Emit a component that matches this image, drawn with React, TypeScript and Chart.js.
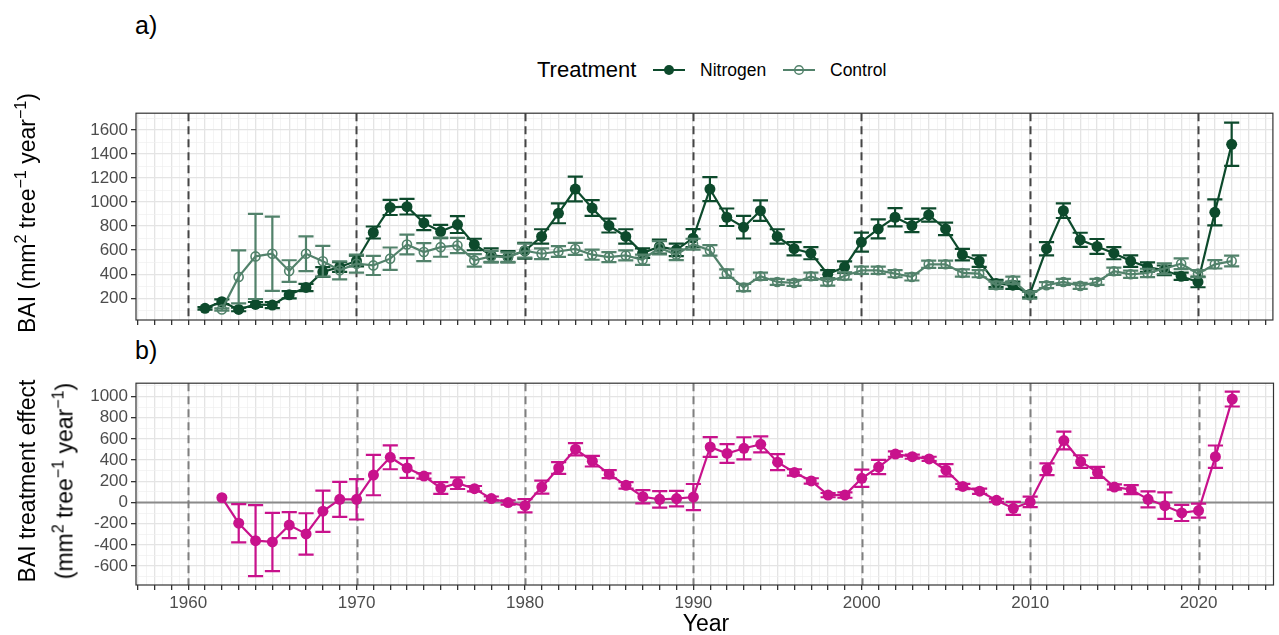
import React, { useEffect, useRef } from "react";
import { Chart, registerables } from "chart.js";

Chart.register(...registerables);

// ---- data -------------------------------------------------------------
const years = [
  1961, 1962, 1963, 1964, 1965, 1966, 1967, 1968, 1969, 1970,
  1971, 1972, 1973, 1974, 1975, 1976, 1977, 1978, 1979, 1980,
  1981, 1982, 1983, 1984, 1985, 1986, 1987, 1988, 1989, 1990,
  1991, 1992, 1993, 1994, 1995, 1996, 1997, 1998, 1999, 2000,
  2001, 2002, 2003, 2004, 2005, 2006, 2007, 2008, 2009, 2010,
  2011, 2012, 2013, 2014, 2015, 2016, 2017, 2018, 2019, 2020,
  2021, 2022,
];

// Basal area increment, nitrogen plots (mean and error half-width)
const nitrogenBAI = [
  115, 170, 106, 148, 142, 228, 289, 418, 459, 510,
  747, 956, 962, 827, 755, 813, 647, 556, 545, 595,
  714, 907, 1109, 951, 805, 714, 575, 630, 603, 700,
  1109, 874, 791, 929, 714, 612, 575, 399, 459, 667,
  777, 874, 805, 893, 777, 562, 509, 322, 308, 231,
  612, 929, 686, 631, 575, 509, 459, 432, 382, 335,
  915, 1482,
];
const nitrogenErr = [
  10, 20, 15, 20, 25, 30, 30, 40, 40, 45,
  50, 63, 65, 60, 55, 70, 48, 58, 48, 65,
  60, 83, 103, 66, 58, 60, 40, 58, 52, 75,
  100, 73, 94, 85, 60, 55, 51, 35, 48, 79,
  79, 76, 55, 55, 52, 48, 48, 30, 30, 25,
  55, 61, 59, 62, 51, 48, 39, 40, 30, 44,
  108, 180,
];

// Basal area increment, control plots (no record for 1961)
const controlBAI = [
  null, 106, 377, 548, 570, 426, 570, 507, 432, 487,
  473, 529, 647, 584, 625, 639, 515, 548, 542, 596,
  570, 589, 610, 562, 542, 556, 520, 620, 562, 650,
  598, 404, 289, 382, 335, 327, 382, 335, 385, 432,
  432, 404, 377, 482, 482, 410, 404, 308, 349, 225,
  308, 335, 302, 335, 424, 399, 410, 446, 487, 404,
  482, 509,
];
const controlErr = [
  null, 10, 221, 355, 310, 90, 144, 128, 75, 75,
  80, 93, 83, 75, 80, 64, 52, 45, 40, 58,
  45, 45, 50, 42, 42, 42, 42, 55, 45, 45,
  44, 35, 30, 30, 25, 25, 30, 30, 30, 30,
  30, 30, 30, 30, 30, 30, 30, 30, 30, 30,
  25, 25, 25, 25, 30, 30, 35, 45, 45, 30,
  35, 45,
];

// Treatment effect (nitrogen minus control)
const effectBAI = [
  null, 46, -195, -360, -372, -213, -296, -82, 30, 30,
  259, 427, 326, 250, 137, 183, 131, 37, 0, -30,
  146, 326, 503, 390, 268, 162, 55, 30, 37, 52,
  524, 463, 512, 549, 381, 284, 204, 70, 70, 229,
  335, 457, 433, 412, 305, 152, 107, 21, -55, 6,
  314, 585, 387, 284, 146, 122, 30, -30, -98, -76,
  433, 976,
];
const effectErr = [
  null, 0, 180, 335, 275, 122, 195, 195, 165, 190,
  190, 113, 93, 25, 55, 55, 25, 20, 20, 63,
  61, 55, 58, 50, 38, 30, 63, 78, 73, 123,
  94, 88, 104, 76, 76, 30, 25, 20, 25, 82,
  67, 25, 20, 20, 58, 25, 25, 15, 61, 50,
  56, 84, 59, 52, 25, 43, 76, 125, 76, 66,
  105, 70,
];

// axis breaks
const decadeYears = [1960, 1970, 1980, 1990, 2000, 2010, 2020];
const topTickLabels = [200, 400, 600, 800, 1000, 1200, 1400, 1600];
const bottomTickLabels = [-600, -400, -200, 0, 200, 400, 600, 800, 1000];

// ---- style ------------------------------------------------------------
const FONT = "'Liberation Sans', Arial, Helvetica, sans-serif";
const NITROGEN = "#0d4a2c";
const CONTROL = "#52826b";
const EFFECT = "#c8128c";
const GRID_MAJOR = "#e4e4e4";
const GRID_MINOR = "#efefef";
const TICK = "#333333";
const LABEL = "#4d4d4d";

const X_MIN = 1956.9;
const X_MAX = 2024.45;

const toPoints = (vals: (number | null)[]) =>
  years.map((y, i) => ({ x: y, y: vals[i] })).filter((p) => p.y !== null);
const toErrs = (vals: (number | null)[], errs: (number | null)[]) =>
  years.map((_, i) => errs[i]).filter((_, i) => vals[i] !== null);

// vertical error bars with caps, drawn just before each series
const errorBarPlugin = {
  id: "errorBars",
  beforeDatasetDraw(chart: any, args: any) {
    const ds = chart.data.datasets[args.index];
    const errs = ds.errors as number[] | undefined;
    if (!errs) return;
    const xs = chart.scales.x;
    const ys = chart.scales.y;
    const ctx = chart.ctx as CanvasRenderingContext2D;
    const a = chart.chartArea;
    ctx.save();
    ctx.beginPath();
    ctx.rect(a.left, a.top, a.right - a.left, a.bottom - a.top);
    ctx.clip();
    ctx.strokeStyle = ds.borderColor;
    ctx.lineWidth = 2.2;
    ds.data.forEach((p: any, i: number) => {
      const e = errs[i];
      if (!e) return;
      const x = xs.getPixelForValue(p.x);
      const half = xs.getPixelForValue(p.x + 0.45) - x;
      const yHi = ys.getPixelForValue(p.y + e);
      const yLo = ys.getPixelForValue(p.y - e);
      ctx.beginPath();
      ctx.moveTo(x, yHi);
      ctx.lineTo(x, yLo);
      ctx.moveTo(x - half, yHi);
      ctx.lineTo(x + half, yHi);
      ctx.moveTo(x - half, yLo);
      ctx.lineTo(x + half, yLo);
      ctx.stroke();
    });
    ctx.restore();
  },
};

// decade reference lines, optional zero line, and the panel frame
const panelPlugin = {
  id: "panelDecor",
  beforeDatasetsDraw(chart: any) {
    const opts = chart.options.plugins.panelDecor;
    const xs = chart.scales.x;
    const ys = chart.scales.y;
    const a = chart.chartArea;
    const ctx = chart.ctx as CanvasRenderingContext2D;
    ctx.save();
    if (opts.zeroLine) {
      const y0 = ys.getPixelForValue(0);
      ctx.strokeStyle = "#8a8a8a";
      ctx.lineWidth = 2;
      ctx.beginPath();
      ctx.moveTo(a.left, y0);
      ctx.lineTo(a.right, y0);
      ctx.stroke();
    }
    ctx.strokeStyle = opts.dashColor;
    ctx.lineWidth = 2;
    ctx.setLineDash([8, 5]);
    decadeYears.forEach((d) => {
      const x = Math.round(xs.getPixelForValue(d)) + 0.5;
      ctx.beginPath();
      ctx.moveTo(x, a.top);
      ctx.lineTo(x, a.bottom);
      ctx.stroke();
    });
    ctx.restore();
  },
  afterDraw(chart: any) {
    const a = chart.chartArea;
    const ctx = chart.ctx as CanvasRenderingContext2D;
    ctx.save();
    ctx.strokeStyle = TICK;
    ctx.lineWidth = 1.2;
    ctx.strokeRect(a.left, a.top, a.right - a.left, a.bottom - a.top);
    ctx.restore();
  },
};

const xTickValues: number[] = [];
for (let v = Math.ceil(X_MIN * 2) / 2; v <= X_MAX; v += 0.5) xTickValues.push(v);

function xScale(showLabels: boolean, height: number) {
  const isMajor = (c: any) => c.tick && Number.isInteger(c.tick.value);
  return {
    type: "linear",
    min: X_MIN,
    max: X_MAX,
    afterBuildTicks: (s: any) => {
      s.ticks = xTickValues.map((v) => ({ value: v }));
    },
    afterFit: (s: any) => {
      s.height = height;
    },
    border: { display: false },
    grid: {
      drawTicks: true,
      tickLength: 5,
      color: (c: any) => (isMajor(c) ? GRID_MAJOR : GRID_MINOR),
      lineWidth: (c: any) => (isMajor(c) ? 1.3 : 0.7),
      tickColor: (c: any) => (isMajor(c) ? TICK : "rgba(0,0,0,0)"),
      tickWidth: (c: any) => (isMajor(c) ? 1.3 : 0),
    },
    ticks: {
      display: showLabels,
      autoSkip: false,
      maxRotation: 0,
      minRotation: 0,
      padding: 3,
      color: LABEL,
      font: { family: FONT, size: 17 },
      callback: (v: number) => (decadeYears.includes(v) ? String(v) : ""),
    },
  };
}

function yScale(min: number, max: number, labels: number[]) {
  const vals: number[] = [];
  for (let v = Math.ceil(min / 100) * 100; v <= max; v += 100) vals.push(v);
  const isMajor = (c: any) => c.tick && labels.includes(c.tick.value);
  return {
    type: "linear",
    min,
    max,
    afterBuildTicks: (s: any) => {
      s.ticks = vals.map((v) => ({ value: v }));
    },
    afterFit: (s: any) => {
      s.width = 136;
    },
    border: { display: false },
    grid: {
      drawTicks: true,
      tickLength: 5,
      color: (c: any) => (isMajor(c) ? GRID_MAJOR : GRID_MINOR),
      lineWidth: (c: any) => (isMajor(c) ? 1.3 : 0.7),
      tickColor: (c: any) => (isMajor(c) ? TICK : "rgba(0,0,0,0)"),
      tickWidth: (c: any) => (isMajor(c) ? 1.3 : 0),
    },
    ticks: {
      autoSkip: false,
      padding: 3,
      color: LABEL,
      font: { family: FONT, size: 17 },
      callback: (v: number) => (labels.includes(v) ? String(v) : ""),
    },
  };
}

function TopPanel() {
  const ref = useRef<HTMLCanvasElement>(null);
  useEffect(() => {
    const chart = new Chart(ref.current as HTMLCanvasElement, {
      type: "line",
      data: {
        datasets: [
          {
            label: "Control",
            data: toPoints(controlBAI),
            errors: toErrs(controlBAI, controlErr),
            borderColor: CONTROL,
            backgroundColor: "rgba(0,0,0,0)",
            borderWidth: 2.2,
            pointRadius: 4.5,
            pointBorderWidth: 1.6,
            pointBorderColor: CONTROL,
            pointBackgroundColor: "rgba(0,0,0,0)",
            order: 1,
          } as any,
          {
            label: "Nitrogen",
            data: toPoints(nitrogenBAI),
            errors: toErrs(nitrogenBAI, nitrogenErr),
            borderColor: NITROGEN,
            backgroundColor: NITROGEN,
            borderWidth: 2.2,
            pointRadius: 5.5,
            pointBorderWidth: 0,
            pointBackgroundColor: NITROGEN,
            order: 2,
          } as any,
        ],
      },
      options: {
        responsive: false,
        animation: false,
        layout: { padding: { top: 12, right: 1, left: 0, bottom: 0 } },
        plugins: {
          legend: { display: false },
          tooltip: { enabled: false },
          panelDecor: { dashColor: "#454545", zeroLine: false },
        } as any,
        scales: {
          x: xScale(false, 20) as any,
          y: yScale(18, 1741, topTickLabels) as any,
        },
      },
      plugins: [errorBarPlugin, panelPlugin],
    });
    return () => chart.destroy();
  }, []);
  return (
    <canvas
      ref={ref}
      width={1279}
      height={240}
      style={{ position: "absolute", left: 0, top: 100, width: 1279, height: 240 }}
    />
  );
}

function BottomPanel() {
  const ref = useRef<HTMLCanvasElement>(null);
  useEffect(() => {
    const chart = new Chart(ref.current as HTMLCanvasElement, {
      type: "line",
      data: {
        datasets: [
          {
            label: "Effect",
            data: toPoints(effectBAI),
            errors: toErrs(effectBAI, effectErr),
            borderColor: EFFECT,
            backgroundColor: EFFECT,
            borderWidth: 2.2,
            pointRadius: 5.5,
            pointBorderWidth: 0,
            pointBackgroundColor: EFFECT,
          } as any,
        ],
      },
      options: {
        responsive: false,
        animation: false,
        layout: { padding: { top: 7, right: 1, left: 0, bottom: 0 } },
        plugins: {
          legend: { display: false },
          tooltip: { enabled: false },
          panelDecor: { dashColor: "#7f7f7f", zeroLine: true },
        } as any,
        scales: {
          x: xScale(true, 50) as any,
          y: yScale(-778, 1126, bottomTickLabels) as any,
        },
      },
      plugins: [errorBarPlugin, panelPlugin],
    });
    return () => chart.destroy();
  }, []);
  return (
    <canvas
      ref={ref}
      width={1279}
      height={265}
      style={{ position: "absolute", left: 0, top: 370, width: 1279, height: 265 }}
    />
  );
}

const textBase: React.CSSProperties = {
  position: "absolute",
  fontFamily: FONT,
  color: "#000",
  whiteSpace: "nowrap",
  lineHeight: 1,
};

function Rotated({ cx, cy, size, children }: { cx: number; cy: number; size: number; children: React.ReactNode }) {
  return (
    <div
      style={{
        ...textBase,
        fontSize: size,
        left: cx,
        top: cy,
        transform: "translate(-50%, -50%) rotate(-90deg)",
      }}
    >
      {children}
    </div>
  );
}

const sup: React.CSSProperties = { fontSize: "0.7em", verticalAlign: "0.55em", lineHeight: 0 };

function Units() {
  return (
    <>
      (mm<span style={sup}>2</span> tree<span style={sup}>−1</span> year<span style={sup}>−1</span>)
    </>
  );
}

function LegendKey({ x, filled, color }: { x: number; filled: boolean; color: string }) {
  return (
    <svg style={{ position: "absolute", left: x, top: 60 }} width={34} height={20}>
      <line x1={1} y1={10} x2={33} y2={10} stroke={color} strokeWidth={2} />
      {filled ? (
        <circle cx={17} cy={10} r={5} fill={color} />
      ) : (
        <circle cx={17} cy={10} r={4.3} fill="none" stroke={color} strokeWidth={1.5} />
      )}
    </svg>
  );
}

export default function App() {
  return (
    <div
      style={{
        position: "absolute",
        left: 0,
        top: 0,
        width: 1279,
        height: 635,
        background: "#fff",
        overflow: "hidden",
      }}
    >
      <div style={{ ...textBase, fontSize: 25, left: 135, top: 13 }}>a)</div>
      <div style={{ ...textBase, fontSize: 25, left: 135, top: 338 }}>b)</div>

      <div style={{ ...textBase, fontSize: 22, left: 537, top: 59 }}>Treatment</div>
      <LegendKey x={652} filled={true} color={NITROGEN} />
      <div style={{ ...textBase, fontSize: 17.5, left: 700, top: 62 }}>Nitrogen</div>
      <LegendKey x={782} filled={false} color={CONTROL} />
      <div style={{ ...textBase, fontSize: 17.5, left: 830, top: 62 }}>Control</div>

      <TopPanel />
      <BottomPanel />

      <Rotated cx={27} cy={213} size={23}>
        BAI <Units />
      </Rotated>
      <Rotated cx={27} cy={481} size={23}>
        BAI treatment effect
      </Rotated>
      <Rotated cx={65} cy={481} size={23}>
        <Units />
      </Rotated>

      <div
        style={{
          ...textBase,
          fontSize: 23,
          left: 706,
          top: 623,
          transform: "translate(-50%, -50%)",
        }}
      >
        Year
      </div>
    </div>
  );
}
